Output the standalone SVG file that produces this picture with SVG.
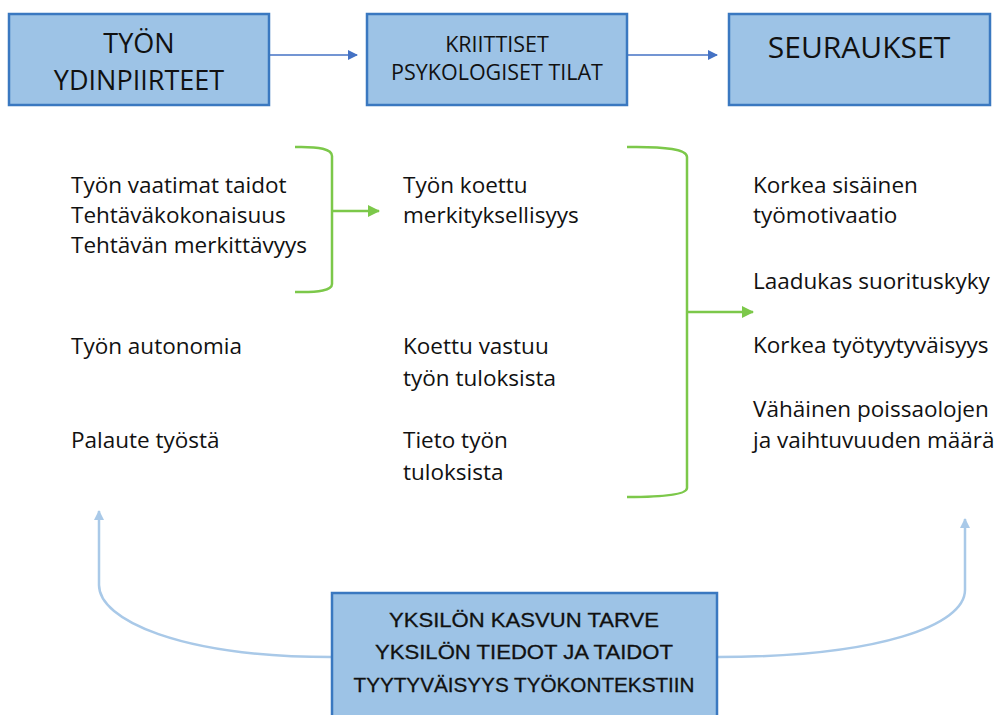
<svg xmlns="http://www.w3.org/2000/svg" width="1000" height="715" viewBox="0 0 1000 715">
<defs>
<style>
.box{fill:#9dc3e6;stroke:#3a78c0;stroke-width:2.5}
.hd{font-family:"Open Sans","Liberation Sans",sans-serif;fill:#111;text-anchor:middle}
.t{font-family:"Open Sans","Liberation Sans",sans-serif;font-size:22.5px;fill:#111}
.bt{font-family:"Liberation Sans",sans-serif;font-size:21px;fill:#111;text-anchor:middle;stroke:#111;stroke-width:0.3}
.blue{stroke:#4472c4;stroke-width:1.5;fill:none}
.green{stroke:#7cc84a;stroke-width:2.5;fill:none}
.lb{stroke:#a9c9e8;stroke-width:2.5;fill:none}
</style>
<marker id="ab" markerWidth="10" markerHeight="10" refX="9" refY="5" orient="auto" markerUnits="userSpaceOnUse"><path d="M0,0 L10,5 L0,10 z" fill="#4472c4"/></marker>
<marker id="ag" markerWidth="12" markerHeight="12" refX="11" refY="6" orient="auto" markerUnits="userSpaceOnUse"><path d="M0,0 L12,6 L0,12 z" fill="#7cc84a"/></marker>
<marker id="al" markerWidth="10" markerHeight="12" refX="9" refY="5" orient="auto" markerUnits="userSpaceOnUse"><path d="M0,0 L10,5 L0,10 z" fill="#a9c9e8"/></marker>
</defs>
<rect width="1000" height="715" fill="#fff"/>
<g id="connectors">
<line class="blue" x1="270" y1="55" x2="357" y2="55" marker-end="url(#ab)"/>
<line class="blue" x1="628" y1="55" x2="717" y2="55" marker-end="url(#ab)"/>
<path class="green" d="M295,147 Q332,146 332,156 L332,284 Q332,293 295,292"/>
<line class="green" x1="332" y1="211" x2="379" y2="211" marker-end="url(#ag)"/>
<path class="green" d="M627,147 Q687,146 687,157 L687,488 Q687,497 627,497"/>
<line class="green" x1="687" y1="312" x2="753" y2="312" marker-end="url(#ag)"/>
<path class="lb" d="M332,657 C180,657 99,620 99,585 L99,511" marker-end="url(#al)"/>
<path class="lb" d="M717,657 C880,657 965,625 965,590 L965,519" marker-end="url(#al)"/>
</g>
<g id="n-ydinpiirteet">
<rect class="box" x="9" y="14" width="260" height="91"/>
<text class="hd" font-size="27" x="139" y="53">TYÖN</text>
<text class="hd" font-size="27" x="139" y="90">YDINPIIRTEET</text>
</g>
<g id="n-tilat">
<rect class="box" x="367" y="14" width="260" height="91"/>
<text class="hd" font-size="21.5" x="497" y="52">KRIITTISET</text>
<text class="hd" font-size="21.5" x="497" y="80">PSYKOLOGISET TILAT</text>
</g>
<g id="n-seuraukset">
<rect class="box" x="729" y="14" width="261" height="91"/>
<text class="hd" font-size="30" x="859" y="58">SEURAUKSET</text>
</g>
<g id="n-yksilo">
<rect class="box" x="332" y="593" width="385" height="130"/>
<text class="bt" x="524" y="627" textLength="270" lengthAdjust="spacingAndGlyphs">YKSILÖN KASVUN TARVE</text>
<text class="bt" x="524" y="659" textLength="298" lengthAdjust="spacingAndGlyphs">YKSILÖN TIEDOT JA TAIDOT</text>
<text class="bt" x="524" y="692" textLength="341" lengthAdjust="spacingAndGlyphs">TYYTYVÄISYYS TYÖKONTEKSTIIN</text>
</g>
<g id="col-left">
<text class="t" x="71" y="193">Työn vaatimat taidot</text>
<text class="t" x="71" y="223">Tehtäväkokonaisuus</text>
<text class="t" x="71" y="253">Tehtävän merkittävyys</text>
<text class="t" x="71" y="354">Työn autonomia</text>
<text class="t" x="71" y="448">Palaute työstä</text>
</g>
<g id="col-mid">
<text class="t" x="403" y="193">Työn koettu</text>
<text class="t" x="403" y="223">merkityksellisyys</text>
<text class="t" x="403" y="354">Koettu vastuu</text>
<text class="t" x="403" y="386">työn tuloksista</text>
<text class="t" x="403" y="448">Tieto työn</text>
<text class="t" x="403" y="480">tuloksista</text>
</g>
<g id="col-right">
<text class="t" x="753" y="193">Korkea sisäinen</text>
<text class="t" x="753" y="223">työmotivaatio</text>
<text class="t" x="753" y="289">Laadukas suorituskyky</text>
<text class="t" x="753" y="353">Korkea työtyytyväisyys</text>
<text class="t" x="753" y="417">Vähäinen poissaolojen</text>
<text class="t" x="753" y="448">ja vaihtuvuuden määrä</text>
</g>
</svg>
